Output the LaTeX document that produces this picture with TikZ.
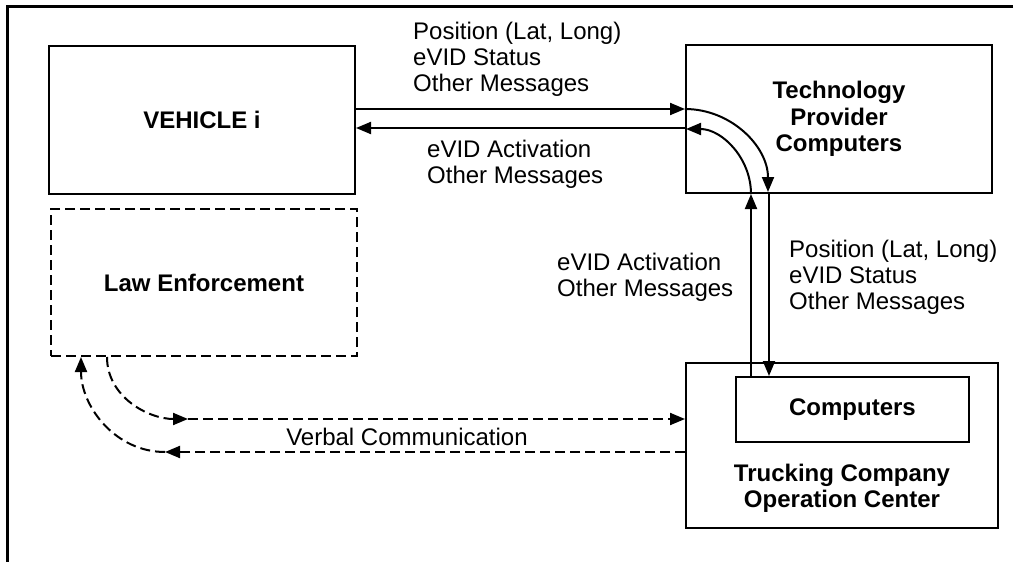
\documentclass[tikz,border=0pt]{standalone}
\usepackage{fontspec}
\setmainfont{Liberation Sans}
\usetikzlibrary{arrows.meta}

\begin{document}
\begin{tikzpicture}[x=1pt, y=-1pt,
    box/.style={draw, line width=2pt, inner sep=0pt},
    dbox/.style={box, dash pattern=on 10pt off 5pt},
    arr/.style={line width=2pt, -{Triangle[length=15pt,width=12pt]}},
    darr/.style={arr, dash pattern=on 10pt off 5pt},
    ttl/.style={align=center, font=\fontsize{24}{26.5}\selectfont\bfseries},
    lbl/.style={align=left, anchor=west, inner sep=0pt, font=\fontsize{24}{26}\selectfont}]
                \useasboundingbox (0,0) rectangle (1023,562);
                \draw [line width=3pt] (1013,6) -- (7,6) -- (7,562);
                % boxes
                \node [box, ttl, minimum width=306pt, minimum height=148pt] (vehicle) at (202,120) {VEHICLE i};
                \node [box, ttl, minimum width=306pt, minimum height=148pt] (tech) at (839,119) {Technology\\Provider\\Computers};
                \node [dbox, ttl, minimum width=306pt, minimum height=147pt] (law) at (204,282.5) {Law Enforcement};
                \node [box, minimum width=312pt, minimum height=165pt] (toc) at (842,445.5) {};
                \node [box, ttl, minimum width=233pt, minimum height=65pt] (comp) at (852.5,409.5) {Computers};
                \node [ttl] (toctext) at (842,488.5) {Trucking Company\\Operation Center};
                % vehicle <-> technology provider <-> computers
                \draw [arr] (vehicle.east |- 0,109) -- (tech.west |- 0,109);
                \draw [arr] (tech.west |- 0,109) arc [start angle=90, end angle=0, radius=83pt];
                \draw [arr] (tech.south -| 769,0) -- (comp.north -| 769,0);
                \draw [arr] (comp.north -| 751,0) -- (tech.south -| 751,0);
                \draw [arr] (tech.south -| 751,0) arc [start angle=0, end angle=90, radius=65pt];
                \draw [arr] (tech.west |- 0,128) -- (vehicle.east |- 0,128);
                % verbal communication
                \coordinate (tipout) at (188,419);
                \coordinate (tipin) at (165,452);
                \draw [darr] (law.south -| 107,0) to [out=-90, in=180] (tipout);
                \draw [darr] (tipout) -- (toc.west |- 0,419);
                \draw [darr] (toc.west |- 0,452) -- (tipin);
                \draw [darr] (tipin) to [out=180, in=-90] (law.south -| 81,0);
                % labels
                \node [lbl] (uplbl) at (413,59) {Position (Lat, Long)\\eVID Status\\Other Messages};
                \node [lbl] (dnlbl) at (427,164.5) {eVID Activation\\Other Messages};
                \node [lbl] (actlbl) at (557,277.5) {eVID Activation\\Other Messages};
                \node [lbl] (poslbl) at (789,277) {Position (Lat, Long)\\eVID Status\\Other Messages};
                \node [font=\fontsize{24}{26}\selectfont] (verbal) at (407,437) {Verbal Communication};
\end{tikzpicture}
\end{document}
